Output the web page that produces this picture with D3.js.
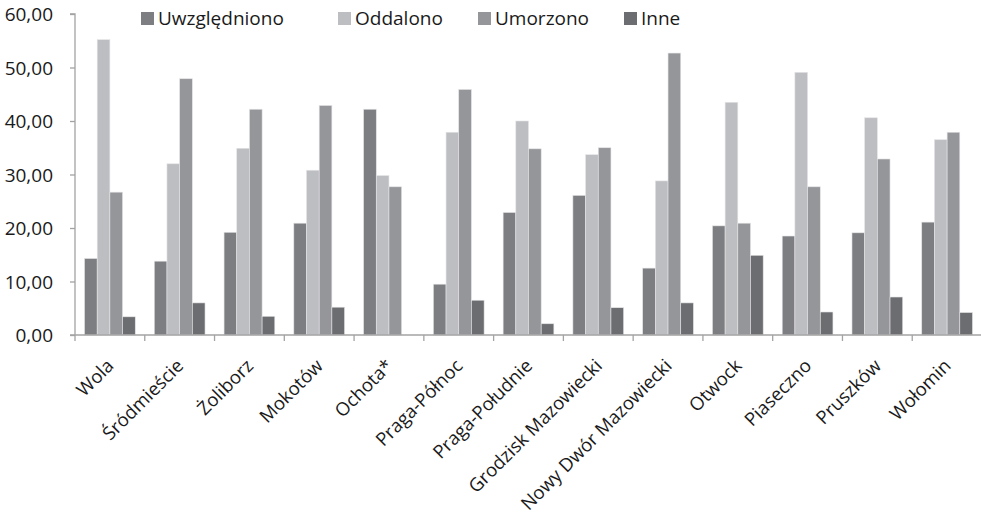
<!DOCTYPE html>
<html><head><meta charset="utf-8">
<script src="https://cdn.jsdelivr.net/npm/d3@7"></script>
<style>body{margin:0;background:#fff}svg{display:block}text{font-family:"Open Sans",sans-serif;fill:#1a1a1a}</style>
</head><body><svg id="c" width="981" height="519"></svg>
<script>
const categories = ["Wola","Śródmieście","Żoliborz","Mokotów","Ochota*","Praga-Północ","Praga-Południe","Grodzisk Mazowiecki","Nowy Dwór Mazowiecki","Otwock","Piaseczno","Pruszków","Wołomin"];
const seriesNames = ["Uwzględniono","Oddalono","Umorzono","Inne"];
const uwzglednionoValues = [14.3,13.8,19.2,20.9,42.2,9.5,22.9,26.1,12.5,20.4,18.5,19.1,21.1];
const oddalonoValues = [55.2,32.0,34.9,30.8,29.8,37.9,40.0,33.7,28.8,43.5,49.1,40.6,36.5];
const umorzonoValues = [26.7,47.9,42.2,42.9,27.7,45.9,34.8,35.0,52.7,20.9,27.7,32.9,37.9];
const inneValues = [3.4,6.0,3.5,5.2,0,6.5,2.1,5.1,6.0,14.9,4.3,7.1,4.2];
const yTicks = [0,10,20,30,40,50,60];
const colors = ["#7d7e82","#bdbec2","#95969a","#6c6d71"];

const seriesValues = [uwzglednionoValues, oddalonoValues, umorzonoValues, inneValues];
const svg = d3.select("#c");
const x0 = 75, x1 = 982, yTop = 14, yBot = 335;
const x = d3.scaleBand().domain(categories).range([x0, x1]).paddingInner(0).paddingOuter(0);
const xs = d3.scaleBand().domain(seriesNames).range([0, x.bandwidth()]).paddingInner(0).paddingOuter(0.75);
const y = d3.scaleLinear().domain([0,60]).range([yBot, yTop]);

// bars
const g = svg.append("g");
categories.forEach((c,i)=>{
  seriesNames.forEach((s,j)=>{
    const v = seriesValues[j][i];
    if (v <= 0) return;
    g.append("rect")
      .attr("x", x(c)+xs(s)).attr("width", xs.bandwidth())
      .attr("y", y(v)).attr("height", y(0)-y(v))
      .attr("fill", colors[j]).attr("stroke","#e4e4e6").attr("stroke-width",0.6);
  });
});

// y axis
const yAxis = d3.axisLeft(y).tickValues(yTicks).tickSize(5).tickFormat(d=>d3.format(".2f")(d).replace(".",","));
const ya = svg.append("g").attr("transform",`translate(${x0},0)`).call(yAxis);
ya.select(".domain").attr("stroke","#a3a3a3").attr("stroke-width",1.3).attr("d",`M-5,${yTop}H0V${yBot}`);
ya.selectAll(".tick line").attr("stroke","#a3a3a3").attr("stroke-width",1.3);
ya.selectAll(".tick text").attr("x",-22).attr("dy","0.35em").style("font-size","19px").style("fill","#1a1a1a");

// x axis
const xa = svg.append("g").attr("transform",`translate(0,${yBot})`);
xa.append("line").attr("x1",x0-5).attr("x2",x1).attr("y1",0).attr("y2",0).attr("stroke","#a3a3a3").attr("stroke-width",1.3);
categories.forEach(c=>{
  xa.append("line").attr("x1",x(c)).attr("x2",x(c)).attr("y1",0).attr("y2",6).attr("stroke","#a3a3a3").attr("stroke-width",1.3);
});
categories.forEach(c=>{
  const cx = x(c)+x.bandwidth()/2;
  xa.append("text").attr("text-anchor","end")
    .attr("transform",`translate(${cx+5},${32}) rotate(-45)`)
    .style("font-size","18.5px").text(c);
});

// legend
const legendX = [141,338,478,624];
seriesNames.forEach((s,j)=>{
  svg.append("rect").attr("x",legendX[j]).attr("y",12).attr("width",13).attr("height",13).attr("fill",colors[j]);
  svg.append("text").attr("x",legendX[j]+17).attr("y",18.5).attr("dy","0.35em").style("font-size","19px").text(s);
});
</script></body></html>
